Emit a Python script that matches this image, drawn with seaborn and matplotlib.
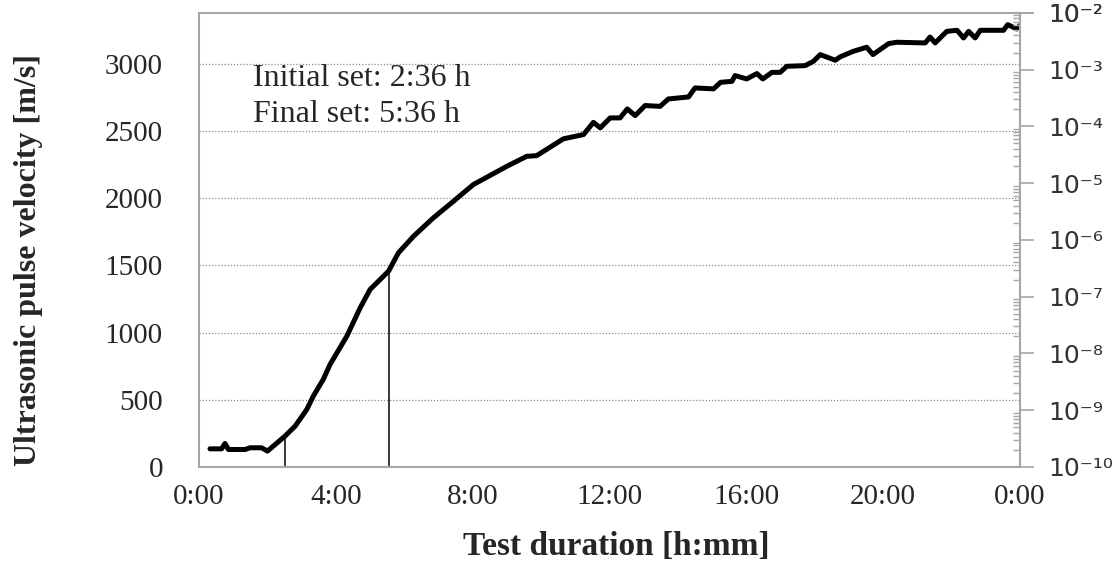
import numpy as np
import matplotlib
matplotlib.use("Agg")
import matplotlib.pyplot as plt
import matplotlib.ticker as mticker
import seaborn as sns
import pandas as pd

# ==========================================
# Data
# ==========================================
hours = [0.32, 0.66, 0.76, 0.86, 1.35, 1.49, 1.83, 2.0, 2.51, 2.81, 3.15, 3.34, 3.63,
         3.83, 4.32, 4.71, 5.0, 5.54, 5.83, 6.27, 6.85, 7.44, 8.02, 9.0, 9.58, 9.87,
         10.65, 11.24, 11.53, 11.73, 12.02, 12.31, 12.52, 12.75, 13.04, 13.48, 13.72,
         14.31, 14.5, 15.04, 15.25, 15.58, 15.67, 16.01, 16.31, 16.48, 16.75, 16.99,
         17.18, 17.72, 17.96, 18.16, 18.6, 18.74, 19.13, 19.52, 19.7, 20.16, 20.4,
         21.23, 21.37, 21.52, 21.86, 22.16, 22.35, 22.5, 22.69, 22.84, 23.52, 23.64,
         23.91, 23.99]
velocity = [135, 135, 175, 130, 130, 143, 143, 118, 229, 304, 428, 527, 651,
            763, 973, 1184, 1321, 1457, 1594, 1717, 1854, 1978, 2102, 2238, 2312, 2317,
            2442, 2474, 2565, 2524, 2598, 2598, 2665, 2615, 2690, 2684, 2739,
            2754, 2821, 2814, 2863, 2870, 2913, 2888, 2928, 2888, 2937, 2937,
            2982, 2987, 3019, 3069, 3027, 3052, 3094, 3124, 3069, 3151, 3161,
            3156, 3200, 3156, 3242, 3250, 3193, 3242, 3193, 3250, 3250, 3292,
            3260, 3285]

set_times = [2.5, 5.54]        # initial / final set markers [h]
set_values = [225, 1460]       # curve value where marker line stops
set_labels = ["Initial set: 2:36 h", "Final set: 5:36 h"]
label_y = [2890, 2625]

x_ticks = [0, 4, 8, 12, 16, 20, 24]
x_ticklabels = ["0:00", "4:00", "8:00", "12:00", "16:00", "20:00", "0:00"]
y_ticks = [0, 500, 1000, 1500, 2000, 2500, 3000]
right_exponents = list(range(-10, -1))

df = pd.DataFrame({"t": hours, "v": velocity})

SUP = str.maketrans("-0123456789", "⁻⁰¹²³⁴⁵⁶⁷⁸⁹")

# ==========================================
# Figure
# ==========================================
sns.set_style("white")
plt.rcParams['font.family'] = ['Liberation Serif', 'DejaVu Serif']

fig = plt.figure(figsize=(11.2, 5.83), dpi=100)
ax = fig.add_axes([0.1777, 0.199, 0.733, 0.779])

grey = "#a6a6a6"

sns.lineplot(data=df, x="t", y="v", ax=ax, color="black", linewidth=3.6)
ax.vlines(set_times, 0, set_values, color="black", linewidth=1.1)

ax.set_xlim(0, 24)
ax.set_ylim(0, 3380)
ax.set_xticks(x_ticks)
ax.set_xticklabels(x_ticklabels)
ax.set_yticks(y_ticks)
ax.tick_params(axis="x", direction="in", length=9, color=grey, width=1.2,
               labelsize=21, pad=12)
ax.tick_params(axis="y", length=0, labelsize=21, pad=26)

for y in y_ticks[1:]:
    ax.axhline(y, color="#8c8c8c", linestyle=(0, (1, 1.5)), linewidth=0.9, zorder=0)

for s in ax.spines.values():
    s.set_color(grey)
    s.set_linewidth(1.5)

ax.set_xlabel("Test duration [h:mm]", fontsize=24, fontweight="bold")
ax.xaxis.set_label_coords(0.508, -0.14)
ax.set_ylabel("Ultrasonic pulse velocity [m/s]", fontsize=23, fontweight="bold")
ax.yaxis.set_label_coords(-0.19, 0.455)

for txt, yv in zip(set_labels, label_y):
    ax.text(1.58, yv, txt, fontsize=23, va="center", ha="left")

# right log axis (no data)
ax2 = ax.twinx()
ax2.set_yscale("log")
ax2.set_ylim(1e-10, 1e-2)
ax2.set_yticks([10.0 ** e for e in right_exponents + [-2]])
ax2.yaxis.set_major_formatter(mticker.FuncFormatter(
    lambda v, p: "10" + str(int(round(np.log10(v)))).translate(SUP)))
ax2.yaxis.set_minor_locator(mticker.LogLocator(base=10, subs=np.arange(2, 10)))
ax2.yaxis.set_minor_formatter(mticker.NullFormatter())
ax2.tick_params(axis="y", which="major", direction="out", length=10, color=grey,
                width=1.2, labelsize=18, labelcolor="#333333", pad=10)
ax2.tick_params(axis="y", which="minor", direction="in", length=5, color=grey, width=1)
for lab in ax2.get_yticklabels():
    lab.set_family("DejaVu Sans")
for s in ax2.spines.values():
    s.set_visible(False)

fig.savefig("out.png", dpi=100)
